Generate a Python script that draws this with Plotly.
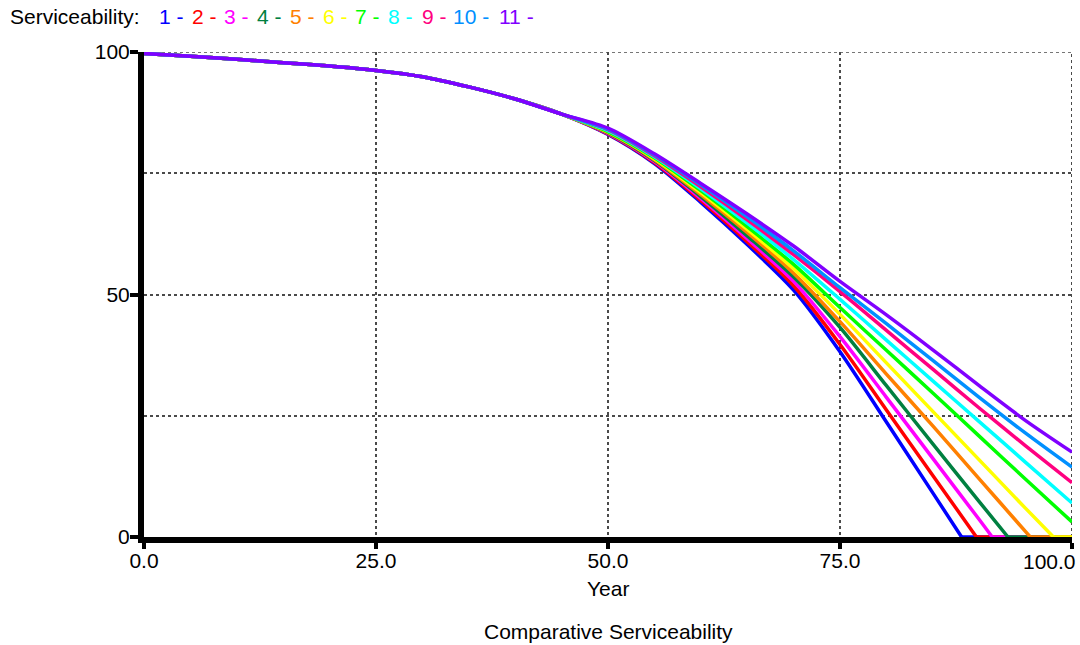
import plotly.graph_objects as go

# ---------------- data ----------------
years_common = [0, 5, 10, 15, 20, 25, 30, 35, 40, 45]
common_vals = [99.7, 99.1, 98.5, 97.8, 97.1, 96.2, 94.9, 92.8, 90.3, 87.2]

years_tail = [50, 55, 60, 65, 70, 75, 80, 85, 90, 95, 100]

s1 = [83.0, 77.0, 69.0, 60.3, 50.9, 38.2, 23.7, 9.1, None, None, None]
s2 = [83.1, 77.2, 69.4, 60.9, 51.8, 39.7, 26.2, 12.7, None, None, None]
s3 = [83.2, 77.4, 69.8, 61.5, 52.7, 41.3, 28.8, 16.2, 3.6, None, None]
s4 = [83.3, 77.6, 70.2, 62.1, 53.6, 43.2, 31.2, 19.2, 7.3, None, None]
s5 = [83.4, 77.8, 70.6, 62.8, 54.4, 44.4, 33.6, 22.9, 12.0, 1.1, None]
s6 = [83.5, 78.0, 71.0, 63.4, 55.3, 45.9, 35.9, 25.9, 15.9, 5.9, None]
s7 = [83.6, 78.2, 71.4, 64.0, 56.2, 47.3, 38.5, 29.7, 20.8, 11.9, 3.1]
s8 = [83.8, 78.4, 71.8, 64.7, 57.2, 49.0, 40.6, 32.2, 23.8, 15.4, 7.0]
s9 = [84.0, 78.6, 72.2, 65.4, 58.2, 50.6, 42.6, 34.6, 26.6, 18.8, 11.2]
s10 = [84.1, 78.8, 72.6, 66.0, 59.0, 51.4, 44.0, 36.4, 28.8, 21.4, 14.4]
s11 = [84.3, 79.0, 72.9, 66.6, 60.0, 52.7, 45.8, 38.6, 31.2, 24.0, 17.5]

# year at which each run reaches zero (None = stays above zero)
zero_year = [88.1, 89.7, 91.4, 93.1, 95.5, 98.0, None, None, None, None, None]

series = [s1, s2, s3, s4, s5, s6, s7, s8, s9, s10, s11]
names = ["1", "2", "3", "4", "5", "6", "7", "8", "9", "10", "11"]
colors = ["#0000FF", "#FF0000", "#FF00FF", "#008040", "#FF8000", "#FFFF00",
          "#00FF00", "#00FFFF", "#FF0080", "#0090FF", "#8000FF"]

x_ticks = [0, 25, 50, 75, 100]
x_ticktext = ["0.0", "25.0", "50.0", "75.0", ""]
x_last_label = "100.0"
y_ticks = [0, 50, 100]
y_ticktext = ["0", "50", "100"]

FONT = "Liberation Sans, Arial, sans-serif"
FS = 21
GRID = "#4a4a4a"
LW = 3.5

fig = go.Figure()
for vals, name, col, zy in zip(series, names, colors, zero_year):
    xs = list(years_common)
    ys = list(common_vals)
    for yr, v in zip(years_tail, vals):
        if v is None:
            continue
        xs.append(yr)
        ys.append(v)
    if zy is not None:
        xs.append(zy)
        ys.append(0)
    fig.add_trace(go.Scatter(x=xs, y=ys, mode="lines", name=name,
                             line=dict(color=col, width=LW, shape="spline", smoothing=0.8),
                             showlegend=False))
    if zy is not None:
        fig.add_trace(go.Scatter(x=[zy, 100], y=[0, 0], mode="lines", name=name,
                                 line=dict(color=col, width=LW), showlegend=False))

fig.update_layout(
    width=1080, height=645,
    margin=dict(l=144, r=8, t=52, b=108),
    paper_bgcolor="white", plot_bgcolor="white",
    font=dict(family=FONT, size=FS, color="black"),
    xaxis=dict(range=[0, 100], tickvals=x_ticks, ticktext=x_ticktext,
               showline=True, linewidth=6, linecolor="black",
               ticks="outside", ticklen=6, tickwidth=4, tickcolor="black",
               ticklabelstandoff=-6,
               showgrid=True, gridcolor=GRID, gridwidth=2, griddash="dot",
               zeroline=False),
    yaxis=dict(range=[0, 100], tickvals=y_ticks, ticktext=y_ticktext,
               showline=True, linewidth=6, linecolor="black",
               ticks="outside", ticklen=8, tickwidth=4, tickcolor="black",
               ticklabelstandoff=-4,
               showgrid=True, gridcolor=GRID, gridwidth=1.5, griddash="dot",
               zeroline=False,
               minor=dict(tickvals=[25, 75], showgrid=True, gridcolor=GRID,
                          gridwidth=1.5, griddash="dot", ticks="")),
)

# dotted frame at top and right
fig.add_shape(type="line", xref="x", yref="y", x0=0, x1=100, y0=100, y1=100,
              line=dict(color=GRID, width=1.5, dash="dot"), layer="below")
fig.add_shape(type="line", xref="x", yref="y", x0=100, x1=100, y0=0, y1=100,
              line=dict(color=GRID, width=2, dash="dot"), layer="below")

# last x tick label, kept inside the page
fig.add_annotation(text=x_last_label, xref="x", yref="paper", x=100, y=0,
                   xanchor="right", yanchor="middle", xshift=6, yshift=-24,
                   showarrow=False, font=dict(size=FS))

# x axis title
fig.add_annotation(text="Year", xref="paper", yref="paper",
                   x=0.5, y=-51 / 485, xanchor="center", yanchor="middle",
                   showarrow=False, font=dict(size=FS))

# bottom caption
fig.add_annotation(text="Comparative Serviceability", xref="paper", yref="paper",
                   x=0.5, y=-94 / 485, xanchor="center", yanchor="middle",
                   showarrow=False, font=dict(size=FS))

# legend header (coloured run numbers)
fig.add_annotation(text="Serviceability:", xref="paper", yref="paper",
                   x=-136 / 928, y=1 + 36 / 485, xanchor="left", yanchor="middle",
                   showarrow=False, font=dict(size=FS))
legend_px = [157, 190, 222, 255, 288, 321, 353, 386, 420, 451, 497]
for name, col, px in zip(names, colors, legend_px):
    fig.add_annotation(text=name + " -", xref="paper", yref="paper",
                       x=(px - 144) / 928, y=1 + 36 / 485, xanchor="left", yanchor="middle",
                       showarrow=False, font=dict(size=FS, color=col))

fig.write_html("out.html")
